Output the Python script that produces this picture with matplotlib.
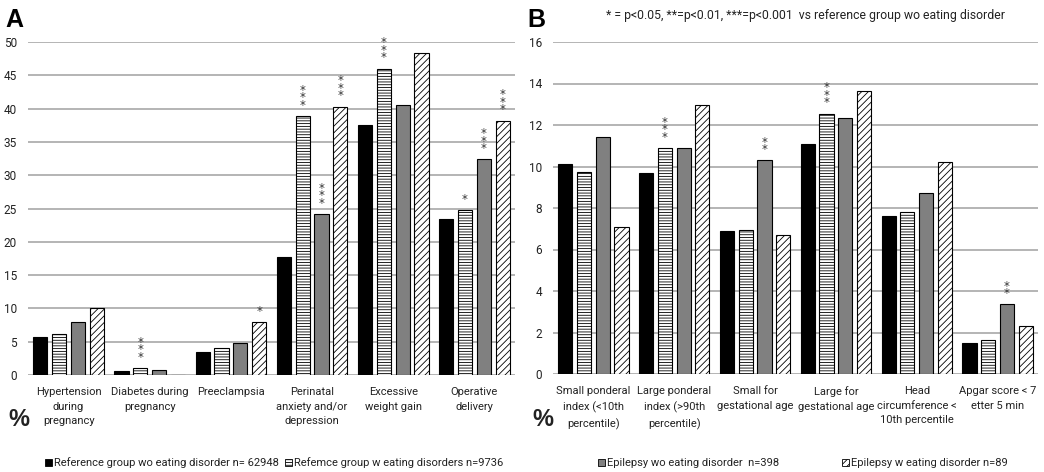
import matplotlib
matplotlib.use("Agg")
import matplotlib.pyplot as plt
from matplotlib.patches import Patch
import numpy as np

plt.rcParams['font.family'] = ['Roboto', 'DejaVu Sans']
plt.rcParams['hatch.linewidth'] = 0.6

# Panel A: maternal outcomes (%)
cats_a = ["Hypertension\nduring\npregnancy", "Diabetes during\npregnancy", "Preeclampsia",
          "Perinatal\nanxiety and/or\ndepression", "Excessive\nweight gain", "Operative\ndelivery"]
ref_wo_a = [5.75, 0.65, 3.5, 17.7, 37.5, 23.4]
ref_w_a = [6.2, 1.1, 4.0, 38.9, 46.0, 24.8]
epi_wo_a = [8.0, 0.8, 4.75, 24.2, 40.6, 32.4]
epi_w_a = [10.1, 0.0, 7.9, 40.3, 48.3, 38.2]
# number of significance stars per group / series
stars_a = [[0, 0, 0, 0], [0, 3, 0, 0], [0, 0, 0, 1],
           [0, 3, 3, 3], [0, 3, 0, 0], [0, 1, 3, 3]]

# Panel B: infant outcomes (%)
cats_b = ["Small ponderal\nindex (<10th\npercentile)", "Large ponderal\nindex (>90th\npercentile)",
          "Small for\ngestational age", "Large for\ngestational age",
          "Head\ncircumference <\n10th percentile", "Apgar score < 7\netter 5 min"]
ref_wo_b = [10.1, 9.7, 6.9, 11.1, 7.6, 1.48]
ref_w_b = [9.75, 10.9, 6.95, 12.55, 7.8, 1.64]
epi_wo_b = [11.4, 10.9, 10.3, 12.35, 8.7, 3.36]
epi_w_b = [7.1, 12.95, 6.7, 13.65, 10.2, 2.31]
stars_b = [[0, 0, 0, 0], [0, 3, 0, 0], [0, 0, 2, 0],
           [0, 3, 0, 0], [0, 0, 0, 0], [0, 0, 2, 0]]

legend_labels = ["Reference group wo eating disorder n= 62948",
                 "Refemce group w eating disorders n=9736",
                 "Epilepsy wo eating disorder  n=398",
                 "Epilepsy w eating disorder n=89"]

styles = [dict(facecolor="black", hatch=None),
          dict(facecolor="white", hatch="------"),
          dict(facecolor="#808080", hatch=None),
          dict(facecolor="white", hatch="/////")]

W, H = 1044, 472
fig = plt.figure(figsize=(W / 100, H / 100), dpi=100)
ax_a = fig.add_axes([28 / W, 1 - 375 / H, 487 / W, 333 / H])
ax_b = fig.add_axes([553 / W, 1 - 374 / H, 485 / W, 332 / H])

txt = "#222222"


def draw_panel(ax, cats, series, stars, ymax, ystep):
    x = np.arange(len(cats))
    pitch = 0.232
    width = 0.175
    for i, vals in enumerate(series):
        pos = x + (i - 1.5) * pitch
        ax.bar(pos, vals, width, edgecolor="black", linewidth=0.8, zorder=3, **styles[i])
        for j, v in enumerate(vals):
            n = stars[j][i]
            if n:
                ax.annotate("\n".join(["*"] * n), (pos[j], v), xytext=(0, 3),
                            textcoords="offset points", ha="center", va="bottom",
                            fontsize=8.5, linespacing=0.45,
                            color="#333333", family="DejaVu Sans")
    ax.set_xlim(-0.5, len(cats) - 0.5)
    ax.set_ylim(0, ymax)
    ax.set_yticks(np.arange(0, ymax + 0.1, ystep))
    ax.yaxis.grid(True, color="#a8a8a8", linewidth=1.2, zorder=0)
    ax.set_axisbelow(True)
    for sp in ax.spines.values():
        sp.set_visible(False)
    ax.set_xticks(x)
    ax.set_xticklabels(cats, fontsize=8.0, color=txt, linespacing=1.6)
    ax.tick_params(axis="x", length=0, pad=8.5)
    ax.tick_params(axis="y", length=0, pad=8, labelsize=8.5, labelcolor=txt)


draw_panel(ax_a, cats_a, [ref_wo_a, ref_w_a, epi_wo_a, epi_w_a], stars_a, 50, 5)
draw_panel(ax_b, cats_b, [ref_wo_b, ref_w_b, epi_wo_b, epi_w_b], stars_b, 16, 2)

fig.text(5 / W, 1 - 20 / H, "A", fontsize=18, fontweight="bold", va="center",
         family="Liberation Sans")
fig.text(527 / W, 1 - 20 / H, "B", fontsize=18, fontweight="bold", va="center",
         family="Liberation Sans")
fig.text(806 / W, 1 - 16 / H, "* = p<0.05, **=p<0.01, ***=p<0.001  vs reference group wo eating disorder",
         fontsize=8.8, ha="center", va="center", color=txt)
fig.text(8 / W, 1 - 420 / H, "%", fontsize=17, fontweight="bold", va="center",
         family="Liberation Sans", color=txt)
fig.text(532 / W, 1 - 420 / H, "%", fontsize=17, fontweight="bold", va="center",
         family="Liberation Sans", color=txt)

leg_x = [45, 285, 598, 842]
for k in range(4):
    h = Patch(edgecolor="black", linewidth=0.6, **styles[k])
    fig.legend([h], [legend_labels[k]], loc="center left",
               bbox_to_anchor=(leg_x[k] / W, 1 - 463 / H), frameon=False,
               borderpad=0, borderaxespad=0, handlelength=0.6, handleheight=0.6,
               handletextpad=0.25, fontsize=8, labelcolor=txt)

fig.savefig("out.png", dpi=100)
